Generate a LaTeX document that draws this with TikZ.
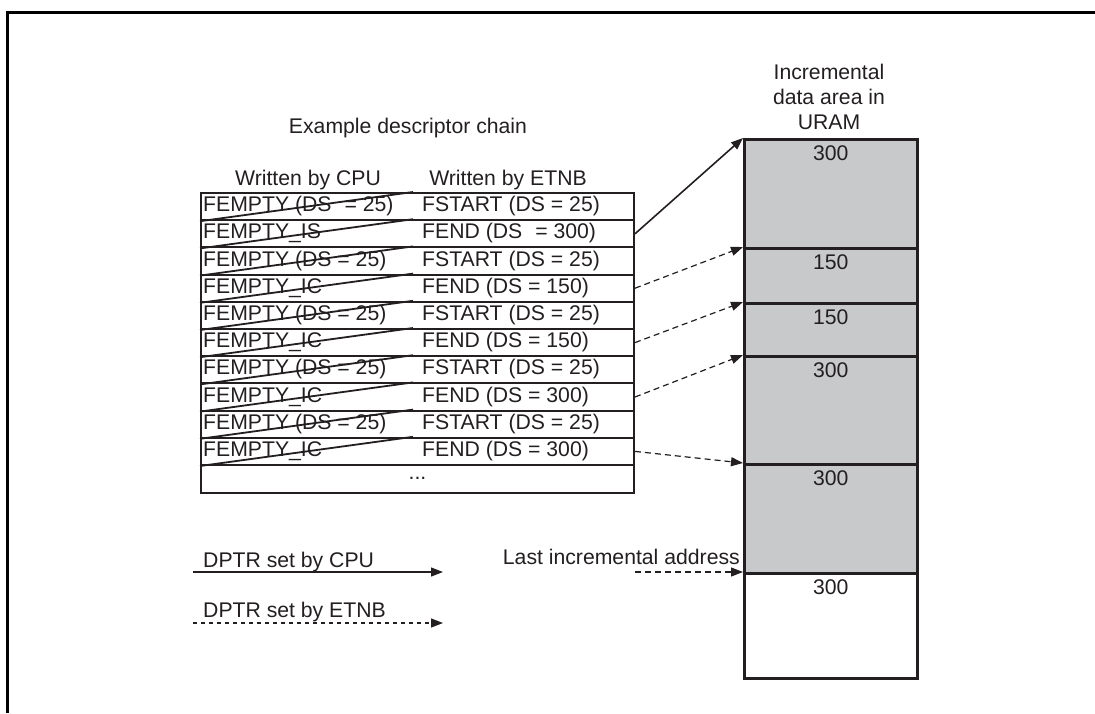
\documentclass[tikz,border=0pt]{standalone}
\usepackage{fontspec}
\setmainfont{Liberation Sans}
\usetikzlibrary{arrows.meta,calc}
\definecolor{ink}{HTML}{231F20}
\definecolor{memgray}{HTML}{C8C9CB}
\begin{document}
\begin{tikzpicture}[x=1pt,y=-1pt,
  every node/.style={font=\fontsize{21.2}{25}\selectfont, text=ink},
  rowbox/.style={draw=ink, line width=2pt, minimum width=433pt, minimum height=27.2pt, inner sep=0pt, anchor=north west},
  membox/.style={draw=ink, line width=2.5pt, minimum width=173pt, inner sep=0pt, anchor=north west},
  lbl/.style={inner sep=0pt, anchor=base west},
  strike/.style={draw=ink, line width=1.8pt},
  solidarrow/.style={draw=ink, line width=1.6pt, -{Triangle[length=12pt,width=9pt]}},
  dasharrow/.style={draw=ink, line width=1.2pt, dash pattern=on 6pt off 4pt, -{Triangle[length=12pt,width=9pt]}},
  legdash/.style={draw=ink, line width=1.2pt, dash pattern=on 4pt off 4pt, -{Triangle[length=12pt,width=9pt]}}
]
\useasboundingbox (0,0) rectangle (1095,713);
% frame (top and left only)
\draw[line width=3pt, black] (7.5,713) -- (7.5,12) -- (1095,12);

% titles
\node[inner sep=0pt, anchor=base] (title) at (408,133) {Example descriptor chain};
\node[inner sep=0pt, anchor=base] (hcpu) at (308,185) {Written by CPU};
\node[inner sep=0pt, anchor=base] (hetnb) at (508,185) {Written by ETNB};

% descriptor rows
\foreach \i/\l/\r in {1/FEMPTY (DS\,\, = 25)/FSTART (DS = 25),
                      2/FEMPTY\_IS/FEND (DS\,\, = 300),
                      3/FEMPTY (DS = 25)/FSTART (DS = 25),
                      4/FEMPTY\_IC/FEND (DS = 150),
                      5/FEMPTY (DS = 25)/FSTART (DS = 25),
                      6/FEMPTY\_IC/FEND (DS = 150),
                      7/FEMPTY (DS = 25)/FSTART (DS = 25),
                      8/FEMPTY\_IC/FEND (DS = 300),
                      9/FEMPTY (DS = 25)/FSTART (DS = 25),
                      10/FEMPTY\_IC/FEND (DS = 300)} {
  \node[rowbox] (r\i) at (200,{192+27.2*(\i-1)}) {};
  \node[lbl, anchor=west] (rl\i) at ($(r\i.west)+(3,0)$) {\strut\l};
  \node[lbl, anchor=west] (rr\i) at ($(r\i.west)+(222,0)$) {\strut\r};
  \draw[strike] (r\i.south west) -- ($(r\i.north west)+(213,0)$);
}
\node[rowbox, minimum height=28pt] (r11) at (200,464) {};
\node[inner sep=0pt] (dots) at ($(r11.center)+(0,-1)$) {...};

% memory area
\node[inner sep=0pt, align=center, anchor=base] (mtitle) at (829,129) {Incremental\\data area in\\URAM};
\node[membox, fill=memgray, minimum height=109pt] (m1) at (743,138) {};
\node[membox, fill=memgray, minimum height=55pt] (m2) at (743,247) {};
\node[membox, fill=memgray, minimum height=53pt] (m3) at (743,302) {};
\node[membox, fill=memgray, minimum height=108pt] (m4) at (743,355) {};
\node[membox, fill=memgray, minimum height=109pt] (m5) at (743,463) {};
\node[membox, fill=white, minimum height=105pt] (m6) at (743,572) {};
\node[inner sep=0pt, anchor=base] (v1) at ($(m1.north)+(0,22.5)$) {300};
\node[inner sep=0pt, anchor=base] (v2) at ($(m2.north)+(0,22.5)$) {150};
\node[inner sep=0pt, anchor=base] (v3) at ($(m3.north)+(0,22.5)$) {150};
\node[inner sep=0pt, anchor=base] (v4) at ($(m4.north)+(0,22.5)$) {300};
\node[inner sep=0pt, anchor=base] (v5) at ($(m5.north)+(0,22.5)$) {300};
\node[inner sep=0pt, anchor=base] (v6) at ($(m6.north)+(0,22.5)$) {300};

% pointers
\draw[solidarrow] (r2.east) -- (m1.north west);
\draw[dasharrow] (r4.east) -- (m2.north west);
\draw[dasharrow] (r6.east) -- (m3.north west);
\draw[dasharrow] (r8.east) -- (m4.north west);
\draw[dasharrow] (r10.east) -- (m5.north west);

\node[inner sep=0pt, anchor=base east] (last) at (740,564) {Last incremental address};
\coordinate (lastfrom) at (635,572);
\draw[dasharrow] (lastfrom) -- (m6.north west);

% legend
\node[lbl] (legcpu) at (203,567) {DPTR set by CPU};
\coordinate (lc1) at (193,572);
\coordinate (lc2) at (443,572);
\draw[solidarrow, line width=1.3pt] (lc1) -- (lc2);
\node[lbl] (legetnb) at (203,617) {DPTR set by ETNB};
\coordinate (le1) at (193,623);
\coordinate (le2) at (443,623);
\draw[legdash] (le1) -- (le2);
\end{tikzpicture}
\end{document}
